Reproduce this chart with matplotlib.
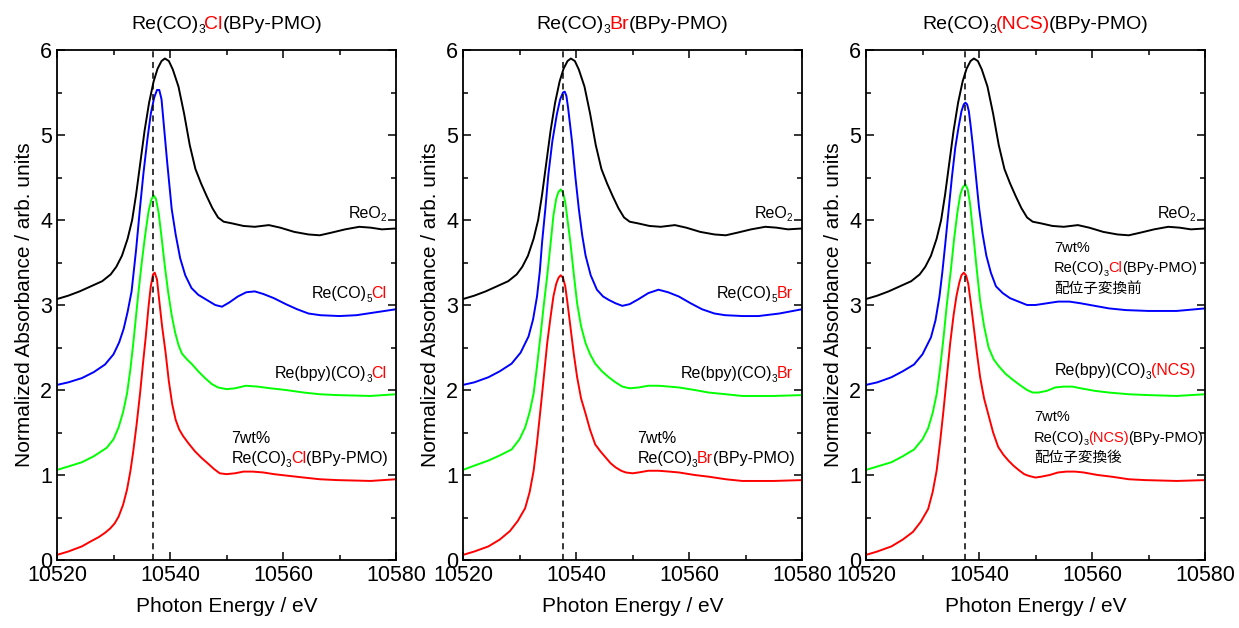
import matplotlib
matplotlib.use('Agg')
import matplotlib.pyplot as plt
from matplotlib.transforms import offset_copy

plt.rcParams['font.family'] = ['Liberation Sans', 'Noto Sans CJK JP', 'DejaVu Sans']

# ---- data (energy in eV, normalized absorbance) ----
# ReO2 reference (same in all panels)
e_reo2 = [10520, 10522, 10524, 10526, 10528, 10529.5, 10530.5, 10531.5, 10532.5, 10533.3,
          10534, 10534.7, 10535.5, 10536.3, 10537.1, 10537.8, 10538.5, 10539.1, 10539.8, 10540.5,
          10541.5, 10542.5, 10543.5, 10544.5, 10545.5, 10546.5, 10547.5, 10548.5, 10549.5, 10551,
          10553, 10555, 10557.5, 10559.5, 10562, 10564.5, 10566.5, 10568.5, 10571, 10573.5,
          10575.5, 10577.5, 10580]
a_reo2 = [3.07, 3.11, 3.16, 3.22, 3.28, 3.36, 3.45, 3.58, 3.78, 4.00,
          4.30, 4.65, 5.05, 5.38, 5.63, 5.78, 5.87, 5.90, 5.87, 5.77,
          5.57, 5.25, 4.88, 4.60, 4.43, 4.28, 4.14, 4.03, 3.98, 3.96,
          3.93, 3.92, 3.94, 3.91, 3.86, 3.83, 3.82, 3.85, 3.89, 3.92,
          3.91, 3.89, 3.90]

# panel 1 (Cl)
e_co5cl = [10520, 10522, 10524.4, 10526.5, 10528.5, 10530, 10531, 10531.8, 10532.5, 10533.2,
           10534, 10534.7, 10535.3, 10536, 10536.6, 10537.2, 10537.7, 10538.1, 10538.5, 10539,
           10539.5, 10540.3, 10541, 10541.8, 10542.7, 10543.8, 10545, 10546.5, 10548, 10549.2,
           10550.5, 10552, 10553.5, 10555, 10556.5, 10558.4, 10560.5, 10562.5, 10564.5, 10566.6,
           10570, 10573, 10576, 10580]
a_co5cl = [2.06, 2.09, 2.14, 2.21, 2.30, 2.42, 2.56, 2.72, 2.92, 3.16,
           3.65, 4.15, 4.55, 4.95, 5.25, 5.44, 5.53, 5.53, 5.42, 5.05,
           4.68, 4.13, 3.83, 3.55, 3.35, 3.20, 3.12, 3.06, 3.00, 2.98,
           3.03, 3.10, 3.15, 3.16, 3.13, 3.08, 3.01, 2.95, 2.90, 2.88,
           2.87, 2.88, 2.91, 2.95]
e_bpycl = [10520, 10522, 10524.4, 10526.5, 10528.8, 10530, 10530.9, 10531.7, 10532.4, 10533,
           10533.5, 10534.4, 10535, 10535.6, 10536.2, 10536.7, 10537.1, 10537.5, 10538, 10538.5,
           10539.1, 10539.7, 10540.3, 10540.9, 10541.5, 10542.1, 10543, 10543.8, 10545, 10546.2,
           10547.4, 10548.5, 10550, 10551.5, 10553.4, 10555.5, 10557.8, 10560.5, 10563.7, 10566.5,
           10569.6, 10575.5, 10580]
a_bpycl = [1.06, 1.10, 1.15, 1.22, 1.32, 1.42, 1.56, 1.74, 1.96, 2.25,
           2.55, 3.14, 3.50, 3.82, 4.10, 4.24, 4.29, 4.25, 4.08, 3.80,
           3.45, 3.14, 2.88, 2.68, 2.53, 2.43, 2.36, 2.31, 2.22, 2.14,
           2.07, 2.03, 2.01, 2.02, 2.05, 2.04, 2.02, 2.00, 1.97, 1.95,
           1.94, 1.93, 1.95]
e_pmocl = [10520, 10522, 10524.4, 10526, 10527.4, 10528.5, 10529.4, 10530.2, 10530.9, 10531.7,
           10532.4, 10533, 10533.5, 10534.1, 10534.7, 10535.2, 10535.7, 10536.2, 10536.6, 10537,
           10537.3, 10537.7, 10538.1, 10538.6, 10539.2, 10539.8, 10540.4, 10541, 10541.6, 10542.3,
           10543.3, 10544.4, 10545.6, 10546.8, 10547.8, 10548.8, 10550, 10551.5, 10553, 10554.6,
           10556.5, 10558.4, 10561, 10563.7, 10566.5, 10569.6, 10575.5, 10580]
a_pmocl = [0.06, 0.10, 0.16, 0.22, 0.27, 0.32, 0.37, 0.43, 0.51, 0.65,
           0.83, 1.05, 1.28, 1.60, 1.96, 2.30, 2.62, 2.98, 3.22, 3.36,
           3.38, 3.30, 3.05, 2.75, 2.45, 2.10, 1.83, 1.65, 1.54, 1.46,
           1.37, 1.28, 1.20, 1.13, 1.07, 1.02, 1.01, 1.02, 1.04, 1.04,
           1.03, 1.01, 0.99, 0.97, 0.95, 0.94, 0.93, 0.95]

# panel 2 (Br)
e_co5br = [10520, 10522, 10524.5, 10526.5, 10528.6, 10530.2, 10531.6, 10532.4, 10533.1, 10533.6,
           10534, 10534.6, 10535.1, 10535.8, 10536.6, 10537.2, 10537.7, 10538, 10538.3, 10538.6,
           10539.3, 10539.9, 10540.5, 10541.1, 10541.7, 10542.6, 10543.7, 10544.8, 10545.8, 10547,
           10548.2, 10549.5, 10551.1, 10552.8, 10554.6, 10556.3, 10558.2, 10560.3, 10562.3, 10564.5,
           10566.4, 10569.5, 10572.3, 10576, 10580]
a_co5br = [2.06, 2.09, 2.15, 2.22, 2.31, 2.44, 2.63, 2.83, 3.10, 3.40,
           3.74, 4.15, 4.53, 4.92, 5.24, 5.42, 5.50, 5.51, 5.46, 5.32,
           4.92, 4.50, 4.13, 3.82, 3.58, 3.35, 3.18, 3.10, 3.06, 3.02,
           2.99, 3.01, 3.07, 3.14, 3.18, 3.15, 3.10, 3.02, 2.95, 2.90,
           2.88, 2.87, 2.87, 2.90, 2.95]
e_bpybr = [10520, 10522, 10524.5, 10526.5, 10528.6, 10530, 10531, 10531.8, 10532.5, 10533.1,
           10533.7, 10534.3, 10534.9, 10535.5, 10536, 10536.5, 10536.9, 10537.3, 10537.7, 10538.1,
           10538.5, 10539, 10539.6, 10540.2, 10540.9, 10541.7, 10542.5, 10543.4, 10544.6, 10545.8,
           10547, 10548.2, 10549.5, 10551.1, 10552.8, 10554.6, 10556.5, 10558.2, 10561, 10563.5,
           10566.5, 10569.4, 10575, 10580]
a_bpybr = [1.06, 1.11, 1.17, 1.23, 1.30, 1.42, 1.56, 1.74, 1.96, 2.28,
           2.63, 3.00, 3.34, 3.72, 4.05, 4.25, 4.33, 4.36, 4.32, 4.21,
           4.00, 3.74, 3.37, 3.02, 2.75, 2.55, 2.42, 2.31, 2.22, 2.15,
           2.09, 2.04, 2.02, 2.03, 2.05, 2.05, 2.04, 2.03, 2.00, 1.97,
           1.95, 1.93, 1.93, 1.94]
e_pmobr = [10520, 10522, 10524.5, 10526.5, 10528.3, 10529.7, 10531, 10531.8, 10532.5, 10533.1,
           10533.7, 10534.3, 10534.9, 10535.5, 10536, 10536.5, 10536.9, 10537.3, 10537.7, 10538.1,
           10538.5, 10539, 10539.6, 10540.2, 10540.9, 10541.7, 10542.5, 10543.4, 10544.3, 10545.2,
           10546.1, 10547, 10548, 10548.8, 10550, 10551.1, 10552.8, 10554.6, 10556.5, 10558.2,
           10561, 10563.5, 10566.5, 10569.4, 10575, 10580]
a_pmobr = [0.06, 0.10, 0.16, 0.24, 0.34, 0.46, 0.61, 0.80, 1.05, 1.38,
           1.76, 2.15, 2.55, 2.86, 3.10, 3.25, 3.32, 3.35, 3.32, 3.22,
           3.02, 2.75, 2.43, 2.15, 1.90, 1.72, 1.53, 1.36, 1.28, 1.21,
           1.14, 1.09, 1.05, 1.03, 1.02, 1.03, 1.05, 1.05, 1.04, 1.03,
           1.00, 0.98, 0.95, 0.93, 0.93, 0.94]

# panel 3 (NCS)
e_pmocl3 = [10520, 10522, 10524.5, 10526.5, 10528.5, 10530, 10531.5, 10532.3, 10533, 10533.5,
            10534, 10534.6, 10535.2, 10535.8, 10536.4, 10536.9, 10537.3, 10537.6, 10537.9, 10538.2,
            10538.5, 10538.9, 10539.4, 10540, 10540.6, 10541.3, 10542.1, 10543, 10544.2, 10545.5,
            10547, 10548.5, 10550, 10552, 10554, 10556, 10558, 10560.5, 10563, 10566,
            10570, 10575, 10580]
a_pmocl3 = [2.06, 2.09, 2.15, 2.22, 2.30, 2.42, 2.62, 2.82, 3.10, 3.38,
            3.70, 4.10, 4.50, 4.85, 5.10, 5.28, 5.36, 5.38, 5.36, 5.28,
            5.12, 4.88, 4.55, 4.15, 3.85, 3.58, 3.38, 3.22, 3.14, 3.08,
            3.04, 3.00, 3.00, 3.02, 3.04, 3.04, 3.02, 2.99, 2.96, 2.94,
            2.93, 2.93, 2.96]
e_bpyncs = [10520, 10522, 10524.5, 10526.5, 10528.5, 10530, 10531, 10531.8, 10532.5, 10533.1,
            10533.7, 10534.3, 10535, 10535.6, 10536.2, 10536.7, 10537.1, 10537.6, 10538, 10538.4,
            10539, 10539.6, 10540.2, 10540.9, 10541.7, 10542.6, 10543.5, 10544.7, 10546, 10547.2,
            10548.5, 10549.5, 10550.5, 10552, 10553.5, 10555, 10556.5, 10558, 10560.5, 10563,
            10566.5, 10570, 10575, 10580]
a_bpyncs = [1.06, 1.10, 1.15, 1.22, 1.30, 1.42, 1.55, 1.73, 1.95, 2.25,
            2.60, 3.00, 3.40, 3.78, 4.10, 4.30, 4.38, 4.42, 4.36, 4.20,
            3.82, 3.42, 3.05, 2.75, 2.50, 2.36, 2.28, 2.19, 2.12, 2.06,
            2.00, 1.97, 1.97, 1.99, 2.03, 2.04, 2.04, 2.02, 1.99, 1.97,
            1.95, 1.94, 1.93, 1.95]
e_pmoncs = [10520, 10522, 10524.5, 10526.5, 10528.3, 10529.7, 10531, 10531.8, 10532.5, 10533.1,
            10533.7, 10534.3, 10534.9, 10535.5, 10536, 10536.5, 10536.9, 10537.3, 10537.7, 10538.1,
            10538.5, 10539, 10539.6, 10540.2, 10540.9, 10541.7, 10542.5, 10543.4, 10544.3, 10545.2,
            10546.1, 10547, 10548, 10548.8, 10550, 10551, 10552.5, 10554, 10555.5, 10557,
            10558.5, 10561, 10563.5, 10566.5, 10569.4, 10575, 10580]
a_pmoncs = [0.06, 0.10, 0.16, 0.24, 0.33, 0.45, 0.60, 0.80, 1.05, 1.38,
            1.75, 2.15, 2.55, 2.88, 3.10, 3.26, 3.35, 3.38, 3.35, 3.25,
            3.05, 2.78, 2.45, 2.15, 1.90, 1.70, 1.50, 1.33, 1.24, 1.17,
            1.11, 1.06, 1.01, 0.99, 0.97, 0.98, 1.00, 1.03, 1.04, 1.04,
            1.03, 1.00, 0.98, 0.95, 0.94, 0.93, 0.94]

edge_lines = [10537.0, 10537.7, 10537.5]
ligands = ['Cl', 'Br', '(NCS)']

RED = '#ff0000'
BLACK = '#000000'

fig = plt.figure(figsize=(12.39, 6.28), dpi=100)
lefts = [57 / 1239, 463 / 1239, 866 / 1239]
axes = [fig.add_axes([l, 68 / 628, 339 / 1239, 510 / 628]) for l in lefts]


def multi_text(ax, x, y, parts, ha='left', size=11.5):
    # parts: list of (text, color, is_subscript); pieces are laid out side by side
    renderer = fig.canvas.get_renderer()
    texts = []
    widths = []
    for s, c, sub in parts:
        fs = size * 0.62 if sub else size
        t = ax.text(x, y, s, color=c, fontsize=fs, transform=ax.transAxes, va='baseline', ha='left')
        widths.append(t.get_window_extent(renderer).width - 0.5)
        texts.append(t)
    total = sum(widths)
    pos = 0
    if ha == 'right':
        pos = -total
    elif ha == 'center':
        pos = -total / 2
    for t, w, (s, c, sub) in zip(texts, widths, parts):
        dy = -size * 0.22 if sub else 0
        t.set_transform(offset_copy(ax.transAxes, fig=fig, x=pos, y=dy * 100 / 72, units='dots'))
        pos += w
    return texts


series = [
    [(e_reo2, a_reo2), (e_co5cl, a_co5cl), (e_bpycl, a_bpycl), (e_pmocl, a_pmocl)],
    [(e_reo2, a_reo2), (e_co5br, a_co5br), (e_bpybr, a_bpybr), (e_pmobr, a_pmobr)],
    [(e_reo2, a_reo2), (e_pmocl3, a_pmocl3), (e_bpyncs, a_bpyncs), (e_pmoncs, a_pmoncs)],
]
colors = ['#000000', '#0000ff', '#00ff00', '#ff0000']

for i, ax in enumerate(axes):
    for (e, a), c in zip(series[i], colors):
        ax.plot(e, a, color=c, lw=1.4)
    ax.axvline(edge_lines[i], color='k', ls=(0, (4, 3)), lw=1.1)
    ax.set_xlim(10520, 10580)
    ax.set_ylim(0, 6)
    ax.set_xticks([10520, 10540, 10560, 10580])
    ax.set_xticks([10530, 10550, 10570], minor=True)
    ax.set_yticks([0, 1, 2, 3, 4, 5, 6])
    ax.set_yticks([0.5, 1.5, 2.5, 3.5, 4.5, 5.5], minor=True)
    ax.tick_params(which='both', direction='in', top=True, right=True, labelsize=15.5, width=1.1)
    ax.tick_params(which='major', length=6)
    ax.tick_params(which='minor', length=3.5)
    for sp in ax.spines.values():
        sp.set_linewidth(1.3)
    ax.set_xlabel('Photon Energy / eV', fontsize=15, labelpad=8)
    ax.set_ylabel('Normalized Absorbance / arb. units', fontsize=15, labelpad=4)
    lig = ligands[i]
    multi_text(ax, 0.5, 1.042, [('Re(CO)', BLACK, False), ('3', BLACK, True), (lig, RED, False),
                                ('(BPy-PMO)', BLACK, False)], ha='center', size=14)
    multi_text(ax, 0.97, 0.671, [('ReO', BLACK, False), ('2', BLACK, True)], ha='right')

for i in range(2):
    ax = axes[i]
    lig = ligands[i]
    multi_text(ax, 0.97, 0.513, [('Re(CO)', BLACK, False), ('5', BLACK, True), (lig, RED, False)], ha='right')
    multi_text(ax, 0.97, 0.356, [('Re(bpy)(CO)', BLACK, False), ('3', BLACK, True), (lig, RED, False)],
               ha='right')
    multi_text(ax, 0.515, 0.229, [('7wt%', BLACK, False)])
    multi_text(ax, 0.515, 0.19, [('Re(CO)', BLACK, False), ('3', BLACK, True), (lig, RED, False),
                                 ('(BPy-PMO)', BLACK, False)])

ax = axes[2]
multi_text(ax, 0.555, 0.604, [('7wt%', BLACK, False)], size=10.5)
multi_text(ax, 0.555, 0.564, [('Re(CO)', BLACK, False), ('3', BLACK, True), ('Cl', RED, False),
                              ('(BPy-PMO)', BLACK, False)], size=10.5)
multi_text(ax, 0.555, 0.524, [('配位子変換前', BLACK, False)], size=10.5)
multi_text(ax, 0.97, 0.362, [('Re(bpy)(CO)', BLACK, False), ('3', BLACK, True), ('(NCS)', RED, False)],
           ha='right')
multi_text(ax, 0.495, 0.272, [('7wt%', BLACK, False)], size=10.5)
multi_text(ax, 0.495, 0.232, [('Re(CO)', BLACK, False), ('3', BLACK, True), ('(NCS)', RED, False),
                              ('(BPy-PMO)', BLACK, False)], size=10.5)
multi_text(ax, 0.495, 0.192, [('配位子変換後', BLACK, False)], size=10.5)

fig.savefig('out.png', dpi=100)
